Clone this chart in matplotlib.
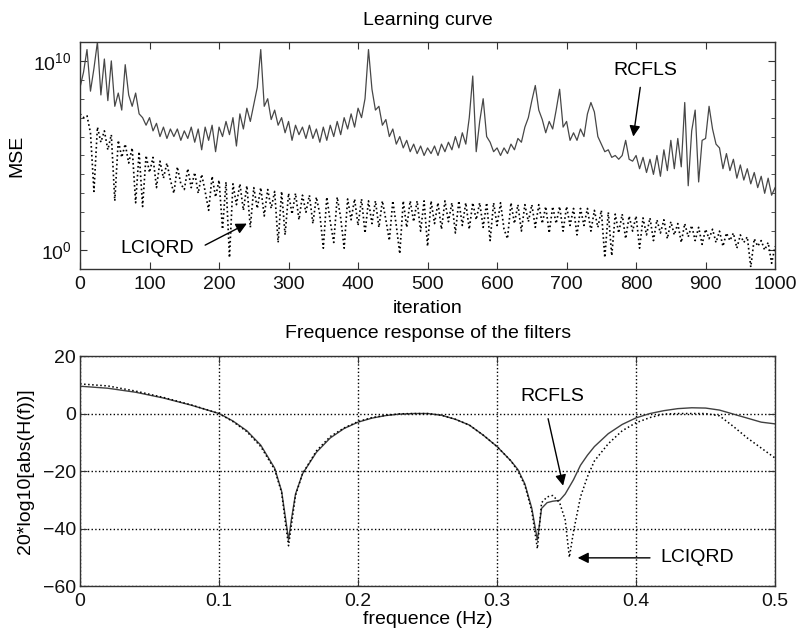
import matplotlib
matplotlib.use("Agg")
import matplotlib.pyplot as plt
import numpy as np
from matplotlib.ticker import NullFormatter

plt.rcParams["font.family"] = ["Liberation Sans", "DejaVu Sans"]
plt.rcParams["mathtext.fontset"] = "custom"
plt.rcParams["mathtext.rm"] = "Liberation Sans"
plt.rcParams["mathtext.it"] = "Liberation Sans:italic"
plt.rcParams["font.size"] = 14

# Learning curve, read every 5 iterations, values are log10(MSE)
iterations = np.arange(0, 1001, 5)
rcfls_log10 = [
    8.6, 9.4, 10.6, 8.4, 9.6, 11.0, 8.2, 10.1, 7.9, 10.0,
    7.6, 8.3, 7.4, 9.8, 8.2, 7.6, 8.3, 7.2, 7.0, 6.6,
    7.0, 6.3, 6.7, 6.0, 6.5, 5.9, 6.4, 6.0, 6.4, 5.8,
    6.3, 5.9, 6.5, 5.7, 6.4, 5.3, 6.5, 5.8, 6.6, 5.2,
    6.5, 6.0, 6.8, 6.1, 7.0, 5.5, 7.2, 6.4, 7.5, 6.8,
    7.7, 8.6, 10.6, 7.6, 8.0, 6.9, 7.4, 6.6, 7.0, 6.2,
    6.8, 5.8, 6.6, 6.1, 6.5, 5.9, 6.6, 5.9, 6.4, 5.7,
    6.5, 5.8, 6.6, 6.0, 6.8, 6.1, 7.0, 6.4, 7.2, 6.5,
    7.5, 7.0, 8.0, 10.6, 8.5, 7.4, 7.6, 6.6, 6.9, 6.0,
    6.4, 5.6, 6.0, 5.4, 5.8, 5.2, 5.6, 5.1, 5.5, 5.0,
    5.4, 5.1, 5.5, 5.0, 5.6, 5.2, 5.7, 5.3, 6.0, 5.4,
    6.2, 5.6, 7.0, 9.2, 5.2, 6.8, 8.0, 6.0, 5.7, 5.2,
    5.4, 5.0, 5.4, 5.1, 5.6, 5.3, 5.9, 5.7, 6.5, 7.0,
    7.9, 8.7, 7.4, 6.9, 6.2, 6.8, 6.4, 7.4, 8.5, 6.5,
    6.8, 5.8, 6.2, 5.8, 6.4, 6.0, 7.2, 7.8, 7.3, 6.0,
    5.6, 5.2, 5.3, 4.9, 5.0, 4.8, 5.0, 5.8, 4.8, 4.7,
    5.0, 4.3, 4.9, 4.1, 4.8, 4.0, 5.0, 3.9, 5.3, 4.2,
    5.8, 4.3, 5.9, 4.4, 7.8, 3.4, 6.3, 7.4, 3.6, 5.8,
    5.9, 7.6, 6.4, 5.6, 5.4, 4.3, 5.1, 4.2, 4.8, 3.8,
    4.5, 3.7, 4.3, 3.5, 4.1, 3.3, 3.9, 3.0, 3.8, 2.9,
    3.3,
]
lciqrd_log10 = [
    7.2, 7.0, 7.1, 6.2, 3.1, 6.5, 5.7, 6.3, 5.3, 6.1,
    2.6, 5.8, 4.9, 5.6, 4.6, 5.4, 2.5, 5.2, 2.3, 5.0,
    4.1, 4.9, 3.3, 4.7, 3.8, 4.6, 3.7, 3.0, 4.4, 3.5,
    3.2, 4.3, 3.3, 4.1, 3.0, 4.0, 3.1, 2.1, 3.9, 2.8,
    3.7, 1.1, 3.6, -0.4, 3.5, 2.4, 3.5, 2.1, 3.4, 1.2,
    3.3, 2.2, 3.3, 1.8, 3.2, 2.2, 3.1, 0.4, 3.1, 0.8,
    3.0, 1.9, 3.0, 1.6, 2.9, 2.0, 2.9, 1.4, 2.8, 1.9,
    0.1, 2.8, 1.5, 0.4, 2.8, 1.7, 0.1, 2.7, 1.6, 2.7,
    1.3, 2.7, 0.9, 2.6, 1.4, 2.6, 1.2, 2.6, 1.6, 0.5,
    2.6, 1.3, -0.2, 2.6, 1.2, 2.6, 1.5, 2.6, 1.0, 2.6,
    0.2, 2.6, 1.4, 2.5, 1.1, 2.6, 1.5, 2.5, 0.9, 2.6,
    1.3, 2.5, 1.1, 2.5, 1.6, 2.5, 1.2, 2.5, 0.5, 2.5,
    1.3, 2.5, 1.1, 0.6, 2.5, 1.4, 2.4, 1.0, 2.4, 1.5,
    2.4, 1.2, 2.4, 1.4, 2.3, 0.9, 2.3, 1.4, 2.3, 1.0,
    2.3, 1.3, 2.2, 0.8, 2.2, 1.3, 2.2, 1.0, 2.1, 1.2,
    2.1, -0.4, 2.0, -0.3, 1.9, 0.9, 1.9, 0.6, 1.8, 1.0,
    1.8, 0.1, 1.7, 0.8, 1.7, 0.5, 1.6, 0.9, 1.6, 0.6,
    1.5, 0.8, 1.4, 0.4, 1.4, 0.7, 1.3, 0.5, 1.2, 0.3,
    1.1, 0.6, 1.1, 0.4, 1.0, 0.2, 0.9, 0.5, 0.9, 0.1,
    0.8, 0.4, 0.7, -0.9, 0.6, 0.2, 0.5, 0.0, 0.4, -0.7,
    0.2,
]

# Frequency response, dB
freq = [0.0, 0.02, 0.04, 0.06, 0.08, 0.10, 0.11, 0.12, 0.13, 0.14,
        0.145, 0.148, 0.150, 0.152, 0.155, 0.16, 0.17, 0.18, 0.19, 0.20,
        0.21, 0.22, 0.23, 0.24, 0.25, 0.26, 0.27, 0.28, 0.29, 0.30,
        0.31, 0.315, 0.32, 0.325, 0.329, 0.332, 0.336, 0.34, 0.345, 0.349,
        0.352, 0.355, 0.36, 0.365, 0.37, 0.38, 0.39, 0.40, 0.41, 0.42,
        0.43, 0.44, 0.45, 0.46, 0.47, 0.48, 0.49, 0.50]
rcfls_db = [9.5, 8.8, 7.4, 5.4, 2.9, 0.0, -2.6, -6.0, -11.0, -19.0,
            -27.0, -37.0, -44.0, -37.0, -28.0, -21.0, -13.5, -8.5, -5.2, -3.0,
            -1.6, -0.7, -0.2, 0.0, 0.0, -0.6, -2.0, -4.0, -7.5, -11.5,
            -16.5, -19.5, -24.5, -33.0, -44.0, -33.0, -31.0, -30.5, -30.2, -28.0,
            -25.5, -23.0, -18.0, -14.5, -11.5, -7.0, -3.8, -1.5, 0.0, 1.0,
            1.7, 2.0, 1.9, 1.2, -0.2, -1.6, -3.0, -3.6]
lciqrd_db = [10.3, 9.6, 7.8, 5.6, 3.0, 0.0, -2.8, -6.3, -11.5, -19.5,
             -27.5, -39.0, -46.0, -39.0, -28.5, -21.0, -13.0, -8.0, -5.0, -2.8,
             -1.4, -0.6, -0.1, 0.0, 0.0, -0.6, -2.0, -4.0, -7.5, -11.5,
             -16.5, -20.0, -25.0, -34.0, -47.0, -31.0, -29.0, -28.5, -31.0, -37.0,
             -50.0, -41.0, -29.0, -22.0, -16.5, -10.5, -6.0, -3.2, -1.4, -0.2,
             0.0, 0.0, 0.0, -0.8, -4.5, -8.5, -12.0, -15.5]


def style_axes(ax):
    for spine in ax.spines.values():
        spine.set_color("#333333")
        spine.set_linewidth(1.0)
    ax.tick_params(which="both", direction="in", top=True, right=True,
                   colors="#333333", labelcolor="#111111", labelsize=14)
    ax.tick_params(which="major", length=5, pad=5)
    ax.tick_params(which="minor", length=3)


def arrow(ax, tip, tail):
    ax.annotate("", xy=tip, xytext=tail,
                arrowprops=dict(arrowstyle="-|>", color="black", lw=1.0,
                                mutation_scale=16, shrinkA=0, shrinkB=0))


fig = plt.figure(figsize=(7.98, 6.43), dpi=100)

# Top: learning curve
ax1 = fig.add_axes([0.1003, 0.5817, 0.871, 0.353])
ax1.semilogy(iterations, 10.0 ** np.array(rcfls_log10), color="#474747", lw=0.9)
ax1.semilogy(iterations, 10.0 ** np.array(lciqrd_log10), color="black", lw=1.2,
             linestyle=":")
ax1.set_xlim(0, 1000)
ax1.set_ylim(1e-1, 1e11)
ax1.set_xticks(np.arange(0, 1001, 100))
ax1.set_yticks([1e0, 1e10])
ax1.set_yticklabels([r"$10^0$", r"$10^{10}$"])
ax1.set_yticks(10.0 ** np.arange(-1, 12), minor=True)
ax1.yaxis.set_minor_formatter(NullFormatter())
style_axes(ax1)
ax1.tick_params(axis="y", which="major", pad=6)
ax1.set_title("Learning curve", fontsize=14, pad=12)
ax1.set_xlabel("iteration", fontsize=14, labelpad=5)
ax1.set_ylabel("MSE", fontsize=14)
ax1.yaxis.set_label_coords(-0.079, 0.5)

ax1.text(813, 10 ** 9.5, "RCFLS", ha="center", va="center", fontsize=14)
arrow(ax1, (796, 10 ** 6.0), (806, 10 ** 8.6))
ax1.text(111, 10 ** 0.1, "LCIQRD", ha="center", va="center", fontsize=14)
arrow(ax1, (240, 10 ** 1.4), (180, 10 ** 0.26))

# Bottom: frequency response
ax2 = fig.add_axes([0.1003, 0.0886, 0.871, 0.3577])
ax2.plot(freq, rcfls_db, color="#404040", lw=1.0)
ax2.plot(freq, lciqrd_db, color="black", lw=1.1, linestyle=":")
ax2.set_xlim(0, 0.5)
ax2.set_ylim(-60, 20)
ax2.set_xticks([0, 0.1, 0.2, 0.3, 0.4, 0.5])
ax2.set_xticklabels(["0", "0.1", "0.2", "0.3", "0.4", "0.5"])
ax2.set_yticks([-60, -40, -20, 0, 20])
ax2.grid(True, linestyle=":", color="black", linewidth=1.0)
style_axes(ax2)
ax2.tick_params(axis="y", pad=3)
ax2.set_title("Frequence response of the filters", fontsize=14, pad=13)
ax2.set_xlabel("frequence (Hz)", fontsize=14, labelpad=1)
ax2.set_ylabel("20*log10[abs(H(f))]", fontsize=14)
ax2.yaxis.set_label_coords(-0.066, 0.5)

ax2.text(0.3396, 5.8, "RCFLS", ha="center", va="center", fontsize=14)
arrow(ax2, (0.3475, -25.1), (0.3367, -1.8))
ax2.text(0.444, -50.2, "LCIQRD", ha="center", va="center", fontsize=14)
arrow(ax2, (0.358, -50.2), (0.410, -50.2))

fig.savefig("out.png", dpi=100)
